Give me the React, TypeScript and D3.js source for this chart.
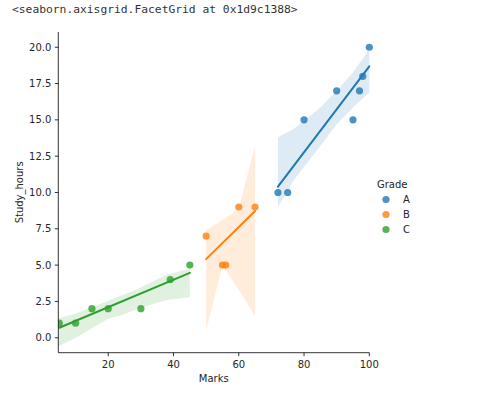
import * as d3 from 'd3'

const W = 477
const H = 394

// scatter data per grade
const marksA = [72, 75, 80, 90, 95, 97, 98, 100]
const hoursA = [10, 10, 15, 17, 15, 17, 18, 20]
const marksB = [50, 55, 56, 60, 65]
const hoursB = [7, 5, 5, 9, 9]
const marksC = [5, 10, 15, 20, 30, 39, 45]
const hoursC = [1, 1, 2, 2, 2, 4, 5]

// bootstrap confidence bands
const bandXA = [72, 77, 85, 90, 95, 100]
const bandLoA = [9.0, 10.9, 13.2, 14.7, 15.85, 16.9]
const bandHiA = [13.8, 14.4, 15.85, 17.0, 18.26, 19.86]
const bandXB = [50, 55, 60, 65]
const bandLoB = [0.5, 5.0, 3.3, 1.5]
const bandHiB = [7.4, 8.1, 8.9, 13.2]
const bandXC = [4.7, 10, 15, 20, 24, 29, 38, 45]
const bandLoC = [-0.6, 0.0, 0.65, 1.3, 1.55, 2.0, 2.6, 2.8]
const bandHiC = [1.33, 1.67, 2.1, 2.55, 2.9, 3.35, 4.35, 4.75]

const grades = ['A', 'B', 'C']
const colors = ['#1f77b4', '#ff7f0e', '#2ca02c']
const xTicks = [20, 40, 60, 80, 100]
const yTicks = [0, 2.5, 5, 7.5, 10, 12.5, 15, 17.5, 20]

const groups = [
  { xs: marksA, ys: hoursA, bx: bandXA, lo: bandLoA, hi: bandHiA },
  { xs: marksB, ys: hoursB, bx: bandXB, lo: bandLoB, hi: bandHiB },
  { xs: marksC, ys: hoursC, bx: bandXC, lo: bandLoC, hi: bandHiC },
]

// ordinary least squares fit
function fit(xs: number[], ys: number[]) {
  const mx = d3.mean(xs) as number
  const my = d3.mean(ys) as number
  let sxy = 0
  let sxx = 0
  xs.forEach((x, i) => {
    sxy += (x - mx) * (ys[i] - my)
    sxx += (x - mx) * (x - mx)
  })
  const b = sxy / sxx
  return { b, a: my - b * mx }
}

export default function App() {
  const margin = { left: 58.3, right: 369.3, top: 32, bottom: 352.7 }
  const x = d3.scaleLinear().domain([4.7, 100]).range([margin.left, margin.right])
  const y = d3.scaleLinear().domain([-1.03, 21.05]).range([margin.bottom, margin.top])
  const font = 'DejaVu Sans, sans-serif'
  const textColor = '#262626'

  return (
    <svg width={W} height={H} style={{ position: 'absolute', left: 0, top: 0, background: '#fff' }}>
      <defs>
        {/* clipped on the left like the reference; the right-most point stays whole */}
        <clipPath id="plot-area">
          <rect x={margin.left} y={margin.top - 6} width={W - margin.left} height={margin.bottom - margin.top + 6} />
        </clipPath>
      </defs>
      <text x={12} y={13} fontFamily="DejaVu Sans Mono, monospace" fontSize={11.3} fill="#333">
        {'<seaborn.axisgrid.FacetGrid at 0x1d9c1388>'}
      </text>

      <g clipPath="url(#plot-area)">
        {/* confidence bands */}
        {groups.map((g, gi) => {
          const area = d3.area<number>()
            .x((_, i) => x(g.bx[i]))
            .y0((_, i) => y(g.lo[i]))
            .y1((_, i) => y(g.hi[i]))
          return <path key={'band' + gi} d={area(g.bx) || ''} fill={colors[gi]} opacity={0.15} />
        })}

        {/* scatter points */}
        {groups.map((g, gi) =>
          g.xs.map((v, i) => (
            <circle key={'p' + gi + '-' + i} cx={x(v)} cy={y(g.ys[i])} r={3.6} fill={colors[gi]} opacity={0.8} />
          ))
        )}

        {/* regression lines */}
        {groups.map((g, gi) => {
          const { a, b } = fit(g.xs, g.ys)
          const x0 = Math.max(d3.min(g.xs) as number, 4.7)
          const x1 = d3.max(g.xs) as number
          return (
            <line key={'fit' + gi} x1={x(x0)} y1={y(a + b * x0)} x2={x(x1)} y2={y(a + b * x1)}
              stroke={colors[gi]} strokeWidth={2} strokeLinecap="round" />
          )
        })}
      </g>

      {/* axes */}
      <line x1={margin.left} x2={margin.left} y1={margin.top} y2={margin.bottom} stroke="#000" strokeWidth={0.8} />
      <line x1={margin.left} x2={margin.right} y1={margin.bottom} y2={margin.bottom} stroke="#000" strokeWidth={0.8} />
      {xTicks.map(t => (
        <g key={'xt' + t}>
          <line x1={x(t)} x2={x(t)} y1={margin.bottom} y2={margin.bottom + 3.5} stroke="#000" strokeWidth={0.8} />
          <text x={x(t)} y={margin.bottom + 15.5} textAnchor="middle" fontFamily={font} fontSize={10} fill={textColor}>{t}</text>
        </g>
      ))}
      {yTicks.map(t => (
        <g key={'yt' + t}>
          <line x1={margin.left - 3.5} x2={margin.left} y1={y(t)} y2={y(t)} stroke="#000" strokeWidth={0.8} />
          <text x={margin.left - 7} y={y(t) + 3.6} textAnchor="end" fontFamily={font} fontSize={10} fill={textColor}>{t.toFixed(1)}</text>
        </g>
      ))}
      <text x={(margin.left + margin.right) / 2} y={382} textAnchor="middle" fontFamily={font} fontSize={10} fill={textColor}>Marks</text>
      <text transform={`translate(23, ${(margin.top + margin.bottom) / 2}) rotate(-90)`} textAnchor="middle"
        fontFamily={font} fontSize={10} fill={textColor}>Study_hours</text>

      {/* legend */}
      <text x={377} y={188} fontFamily={font} fontSize={10} fill={textColor}>Grade</text>
      {grades.map((gr, i) => (
        <g key={'lg' + gr}>
          <circle cx={386} cy={199.5 + i * 15} r={3.6} fill={colors[i]} opacity={0.8} />
          <text x={403} y={203 + i * 15} fontFamily={font} fontSize={10} fill={textColor}>{gr}</text>
        </g>
      ))}
    </svg>
  )
}
